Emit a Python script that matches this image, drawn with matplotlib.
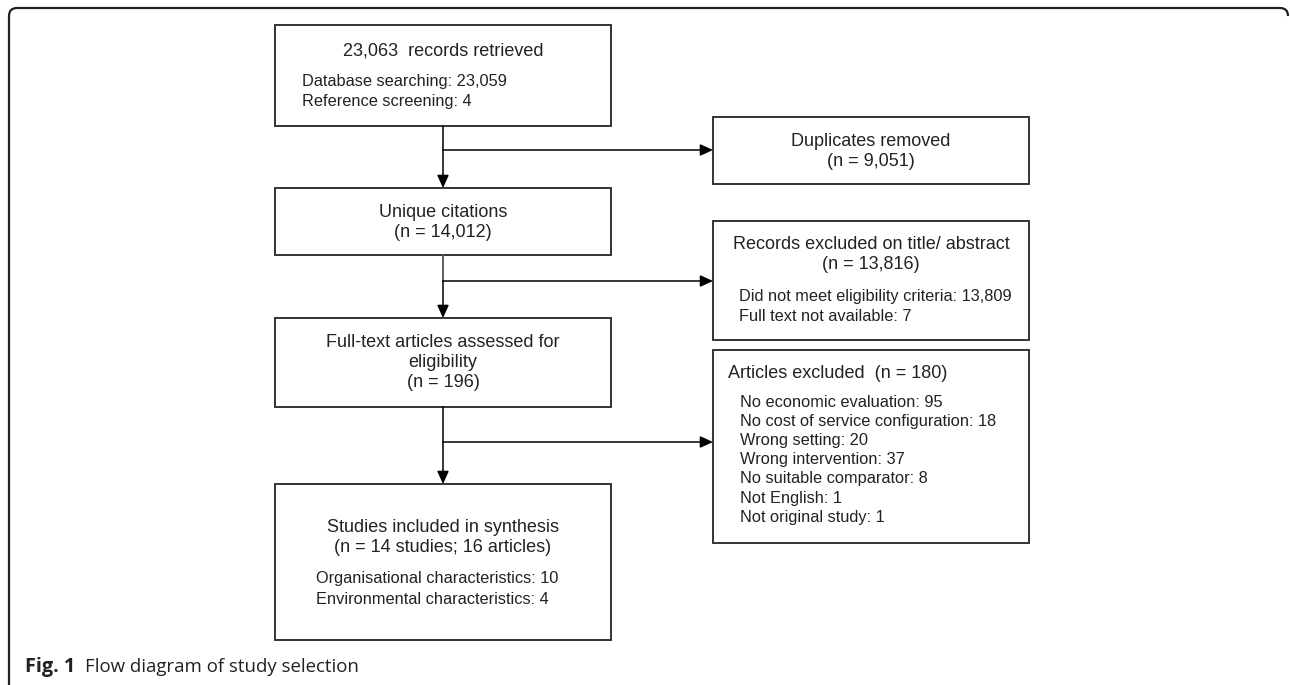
import matplotlib
matplotlib.use("Agg")
import matplotlib.pyplot as plt
from matplotlib.path import Path
from matplotlib.patches import PathPatch, Rectangle

# ---- content ----
retrieved_title = "23,063  records retrieved"
retrieved_items = ["Database searching: 23,059", "Reference screening: 4"]
duplicates_lines = ["Duplicates removed", "(n = 9,051)"]
unique_lines = ["Unique citations", "(n = 14,012)"]
excluded_title_lines = ["Records excluded on title/ abstract", "(n = 13,816)"]
excluded_items = ["Did not meet eligibility criteria: 13,809", "Full text not available: 7"]
fulltext_lines = ["Full-text articles assessed for", "eligibility", "(n = 196)"]
articles_title = "Articles excluded  (n = 180)"
articles_items = ["No economic evaluation: 95",
                  "No cost of service configuration: 18",
                  "Wrong setting: 20",
                  "Wrong intervention: 37",
                  "No suitable comparator: 8",
                  "Not English: 1",
                  "Not original study: 1"]
included_lines = ["Studies included in synthesis", "(n = 14 studies; 16 articles)"]
included_items = ["Organisational characteristics: 10", "Environmental characteristics: 4"]
caption_bold = "Fig. 1"
caption_text = "Flow diagram of study selection"

W, H = 1290, 685
fig = plt.figure(figsize=(W / 100, H / 100), dpi=100)
ax = fig.add_axes([0, 0, 1, 1])
ax.set_xlim(0, W)
ax.set_ylim(H, 0)
ax.axis("off")

FONT = "Liberation Sans"
BOX_EC = "#333333"
TXT = "#222222"
TITLE_SIZE = 13
ITEM_SIZE = 11.8

def box(x0, y0, x1, y1):
    ax.add_patch(Rectangle((x0, y0), x1 - x0, y1 - y0, fill=False,
                           ec=BOX_EC, lw=1.4))

def text(x, y, s, ha="center", size=TITLE_SIZE):
    ax.text(x, y, s, ha=ha, va="center", fontsize=size, family=FONT, color=TXT)

def arrow(x0, y0, x1, y1):
    ax.annotate("", xy=(x1, y1), xytext=(x0, y0),
                arrowprops=dict(arrowstyle="-|>,head_length=0.55,head_width=0.25",
                                color="black", lw=1.1, shrinkA=0, shrinkB=0,
                                mutation_scale=14))

# outer frame (rounded top-left / top-right corners)
r = 8
verts = [(9, H + 5), (9, 8 + r), (9, 8), (9 + r, 8), (1288 - r, 8), (1288, 8), (1288, 8 + r)]
codes = [Path.MOVETO, Path.LINETO, Path.CURVE3, Path.CURVE3, Path.LINETO, Path.CURVE3, Path.CURVE3]
ax.add_patch(PathPatch(Path(verts, codes), fill=False, ec="#222222", lw=1.6))

LX0, LX1 = 275, 611
RX0, RX1 = 713, 1029
CX = 443
RCX = (RX0 + RX1) / 2

# box 1
box(LX0, 25, LX1, 126)
text(CX, 51, retrieved_title)
for i, s in enumerate(retrieved_items):
    text(302, 81 + i * 20, s, ha="left", size=ITEM_SIZE)

# duplicates
box(RX0, 117, RX1, 184)
for i, s in enumerate(duplicates_lines):
    text(RCX, 141 + i * 20, s)

# unique
box(LX0, 188, LX1, 255)
for i, s in enumerate(unique_lines):
    text(CX, 212 + i * 20, s)

# records excluded
box(RX0, 221, RX1, 340)
for i, s in enumerate(excluded_title_lines):
    text(RCX, 244 + i * 20, s)
for i, s in enumerate(excluded_items):
    text(739, 296 + i * 20, s, ha="left", size=ITEM_SIZE)

# full text
box(LX0, 318, LX1, 407)
for i, s in enumerate(fulltext_lines):
    text(CX, 342 + i * 20, s)

# articles excluded
box(RX0, 350, RX1, 543)
text(728, 373, articles_title, ha="left")
for i, s in enumerate(articles_items):
    text(740, 402 + i * 19.2, s, ha="left", size=ITEM_SIZE)

# included
box(LX0, 484, LX1, 640)
for i, s in enumerate(included_lines):
    text(CX, 527 + i * 21, s)
for i, s in enumerate(included_items):
    text(316, 578 + i * 21, s, ha="left", size=ITEM_SIZE)

# connectors
ax.plot([CX, CX], [126, 150], color="black", lw=1.1)
arrow(CX, 150, CX, 188)
arrow(CX, 150, RX0, 150)
ax.plot([CX, CX], [255, 281], color="#555555", lw=1.3)
arrow(CX, 281, CX, 318)
arrow(CX, 281, RX0, 281)
ax.plot([CX, CX], [407, 442], color="black", lw=1.1)
arrow(CX, 442, CX, 484)
arrow(CX, 442, RX0, 442)

# caption
ax.text(25, 667, caption_bold, ha="left", va="center", fontsize=14.3,
        family="Open Sans", weight="bold", color="#222222")
ax.text(85, 667, caption_text, ha="left", va="center", fontsize=13.4,
        family="Open Sans", color="#222222")

fig.savefig("out.png", dpi=100, facecolor="white")
